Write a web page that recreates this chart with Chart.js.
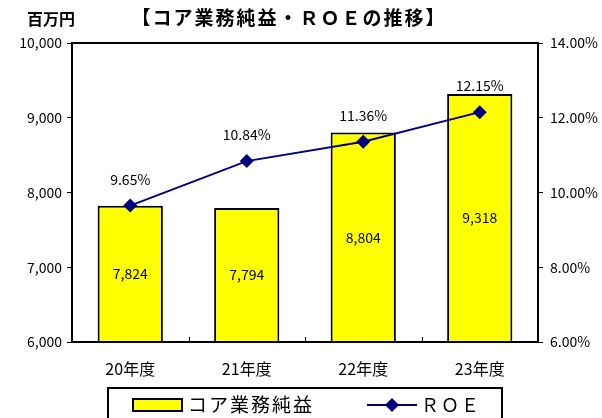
<!DOCTYPE html>
<html>
<head>
<meta charset="utf-8">
<script src="https://cdn.jsdelivr.net/npm/chart.js@4/dist/chart.umd.min.js"></script>
<style>
  html, body { margin: 0; padding: 0; background: #ffffff; }
  #wrap { position: relative; width: 602px; height: 418px; }
</style>
</head>
<body>
<div id="wrap"><canvas id="roeChart" width="602" height="418"></canvas></div>
<script>
const years = ["20年度", "21年度", "22年度", "23年度"];
const coreProfit = [7824, 7794, 8804, 9318];
const roe = [9.65, 10.84, 11.36, 12.15];
const leftTicks = [6000, 7000, 8000, 9000, 10000];
const rightTicks = [6, 8, 10, 12, 14];

const FONT = "'Noto Sans CJK JP', 'Noto Sans', sans-serif";

function fmtNum(v) {
  return Number(v).toLocaleString("en-US");
}

// frame, inner x ticks, data labels, title and legend
const decorPlugin = {
  id: "decor",
  afterDatasetsDraw(chart) {
    const ctx = chart.ctx;
    const a = chart.chartArea;

    ctx.save();
    ctx.strokeStyle = "#000";
    ctx.lineWidth = 2;
    ctx.strokeRect(a.left, a.top, a.right - a.left, a.bottom - a.top);

    // small tick marks between categories, pointing up
    ctx.lineWidth = 1;
    const step = (a.right - a.left) / years.length;
    for (let i = 1; i < years.length; i++) {
      const px = Math.round(a.left + step * i) + 0.5;
      ctx.beginPath();
      ctx.moveTo(px, a.bottom);
      ctx.lineTo(px, a.bottom - 5);
      ctx.stroke();
    }

    // bar labels
    ctx.fillStyle = "#000";
    ctx.font = "14px " + FONT;
    ctx.textAlign = "center";
    ctx.textBaseline = "middle";
    chart.getDatasetMeta(0).data.forEach((bar, i) => {
      const mid = (bar.y + a.bottom) / 2;
      ctx.fillText(fmtNum(coreProfit[i]), bar.x, mid);
    });

    // ROE labels
    chart.getDatasetMeta(1).data.forEach((pt, i) => {
      ctx.fillText(roe[i].toFixed(2) + "%", pt.x, pt.y - 26);
    });

    // title and unit
    ctx.font = "bold 19px " + FONT;
    ctx.letterSpacing = "2px";
    ctx.fillText("【コア業務純益・ＲＯＥの推移】", 289, 18);
    ctx.letterSpacing = "0px";
    ctx.font = "bold 16px " + FONT;
    ctx.fillText("百万円", 51, 19);

    // legend
    ctx.lineWidth = 2;
    ctx.strokeRect(108, 388, 394, 34);
    ctx.fillStyle = "#ffff00";
    ctx.fillRect(133, 399, 49, 12);
    ctx.strokeStyle = "#000";
    ctx.strokeRect(133, 399, 49, 12);
    ctx.fillStyle = "#000";
    ctx.font = "19px " + FONT;
    ctx.letterSpacing = "2px";
    ctx.textAlign = "left";
    ctx.fillText("コア業務純益", 188, 405);
    ctx.strokeStyle = "#000080";
    ctx.lineWidth = 2;
    ctx.beginPath();
    ctx.moveTo(367, 405);
    ctx.lineTo(417, 405);
    ctx.stroke();
    ctx.fillStyle = "#000080";
    ctx.beginPath();
    ctx.moveTo(392, 398);
    ctx.lineTo(399, 405);
    ctx.lineTo(392, 412);
    ctx.lineTo(385, 405);
    ctx.closePath();
    ctx.fill();
    ctx.fillStyle = "#000";
    ctx.font = "18px " + FONT;
    ctx.fillText("ＲＯＥ", 421, 405);
    ctx.restore();
  },
};

const ctx = document.getElementById("roeChart").getContext("2d");

new Chart(ctx, {
  type: "bar",
  data: {
    labels: years,
    datasets: [
      {
        type: "bar",
        label: "コア業務純益",
        data: coreProfit,
        yAxisID: "y",
        backgroundColor: "#ffff00",
        borderColor: "#000000",
        borderWidth: 2,
        categoryPercentage: 1,
        barPercentage: 0.56,
        order: 2,
      },
      {
        type: "line",
        label: "ＲＯＥ",
        data: roe,
        yAxisID: "y1",
        borderColor: "#000080",
        backgroundColor: "#000080",
        borderWidth: 2,
        pointStyle: "rectRot",
        pointRadius: 7,
        pointBorderWidth: 0,
        tension: 0,
        order: 1,
      },
    ],
  },
  options: {
    responsive: false,
    animation: false,
    layout: { padding: { top: 43, left: 0, right: 0, bottom: 0 } },
    plugins: {
      legend: { display: false },
      title: { display: false },
      tooltip: { enabled: false },
    },
    scales: {
      x: {
        offset: true,
        afterFit(scale) { scale.height = 76; },
        grid: { display: false, drawTicks: false },
        border: { display: false },
        ticks: {
          color: "#000",
          padding: 17,
          font: { family: FONT, size: 16 },
        },
      },
      y: {
        position: "left",
        min: 6000,
        max: 10000,
        afterFit(scale) { scale.width = 72; },
        afterBuildTicks(scale) {
          scale.ticks = leftTicks.map((v) => ({ value: v }));
        },
        grid: { drawOnChartArea: false, tickLength: 5, color: "#000" },
        border: { display: true, color: "#000", width: 2 },
        ticks: {
          color: "#000",
          padding: 5,
          font: { family: FONT, size: 14 },
          callback: (v) => fmtNum(v),
        },
      },
      y1: {
        position: "right",
        min: 6,
        max: 14,
        afterFit(scale) { scale.width = 64; },
        afterBuildTicks(scale) {
          scale.ticks = rightTicks.map((v) => ({ value: v }));
        },
        grid: { drawOnChartArea: false, tickLength: 5, color: "#000" },
        border: { display: true, color: "#000", width: 2 },
        ticks: {
          color: "#000",
          padding: 7,
          font: { family: FONT, size: 14 },
          callback: (v) => v.toFixed(2) + "%",
        },
      },
    },
  },
  plugins: [decorPlugin],
});
</script>
</body>
</html>
